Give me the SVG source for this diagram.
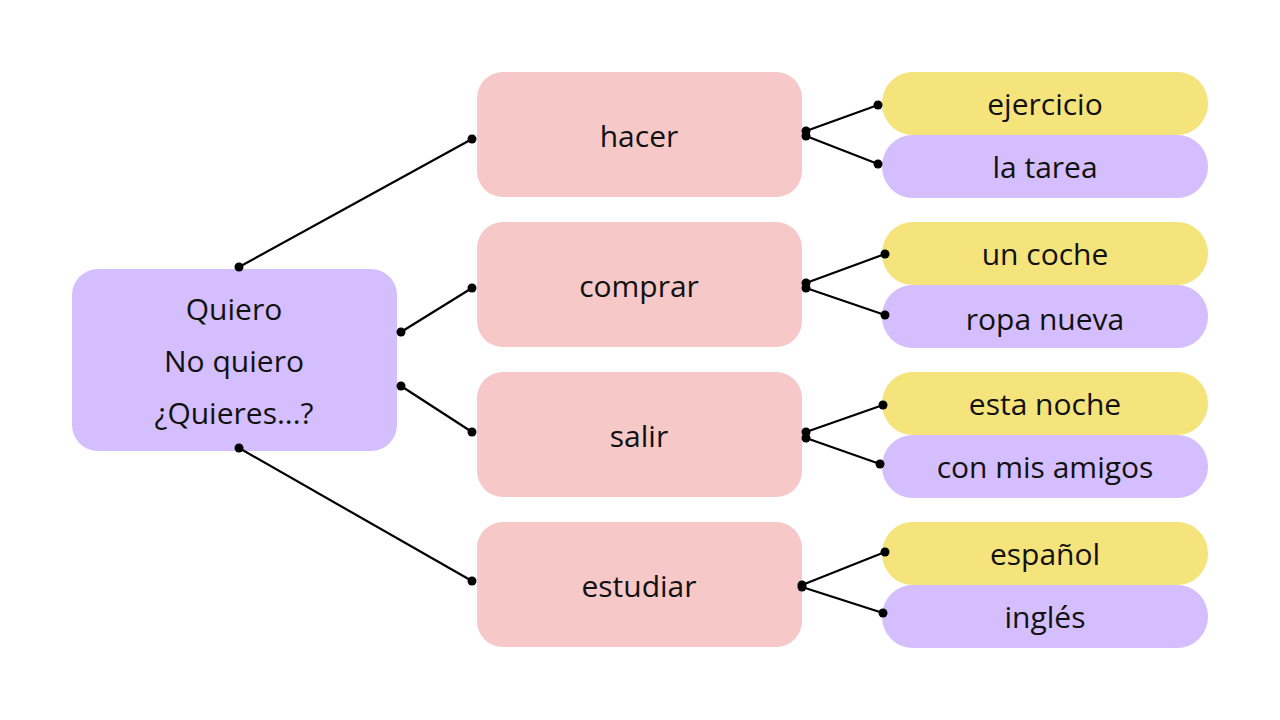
<svg xmlns="http://www.w3.org/2000/svg" width="1280" height="720" viewBox="0 0 1280 720">
<style>
.p{fill:#d4befd}.r{fill:#f6c8c8}.y{fill:#f5e37c}
text{font-family:"Open Sans","Noto Sans",sans-serif;font-size:30px;fill:#111;text-anchor:middle;dominant-baseline:central}
.c line{stroke:#000;stroke-width:2.2}
.c circle{fill:#000}
</style>
<rect width="1280" height="720" fill="#fff"/>
<g id="root"><rect class="p" x="72" y="269" width="325" height="182" rx="26"/>
<text x="234" y="308">Quiero</text><text x="234" y="360">No quiero</text><text x="234" y="412">¿Quieres...?</text></g>
<g id="hacer"><rect class="r" x="477" y="72" width="325" height="125" rx="26"/><text x="639" y="135">hacer</text></g>
<g id="comprar"><rect class="r" x="477" y="222" width="325" height="125" rx="26"/><text x="639" y="285">comprar</text></g>
<g id="salir"><rect class="r" x="477" y="372" width="325" height="125" rx="26"/><text x="639" y="435">salir</text></g>
<g id="estudiar"><rect class="r" x="477" y="522" width="325" height="125" rx="26"/><text x="639" y="585">estudiar</text></g>
<g id="ejercicio"><rect class="y" x="882" y="72" width="326" height="63" rx="31"/><text x="1045" y="103">ejercicio</text></g>
<g id="latarea"><rect class="p" x="882" y="135" width="326" height="63" rx="31"/><text x="1045" y="166">la tarea</text></g>
<g id="uncoche"><rect class="y" x="882" y="222" width="326" height="63" rx="31"/><text x="1045" y="253">un coche</text></g>
<g id="ropanueva"><rect class="p" x="882" y="285" width="326" height="63" rx="31"/><text x="1045" y="318">ropa nueva</text></g>
<g id="estanoche"><rect class="y" x="882" y="372" width="326" height="63" rx="31"/><text x="1045" y="403">esta noche</text></g>
<g id="conmisamigos"><rect class="p" x="882" y="435" width="326" height="63" rx="31"/><text x="1045" y="466">con mis amigos</text></g>
<g id="espanol"><rect class="y" x="882" y="522" width="326" height="63" rx="31"/><text x="1045" y="553">español</text></g>
<g id="ingles"><rect class="p" x="882" y="585" width="326" height="63" rx="31"/><text x="1045" y="616">inglés</text></g>
<g class="c" id="connectors">
<line x1="239" y1="267" x2="472" y2="139"/><circle cx="239" cy="267" r="4.5"/><circle cx="472" cy="139" r="4.5"/>
<line x1="401" y1="332" x2="472" y2="288"/><circle cx="401" cy="332" r="4.5"/><circle cx="472" cy="288" r="4.5"/>
<line x1="401" y1="386" x2="472" y2="432"/><circle cx="401" cy="386" r="4.5"/><circle cx="472" cy="432" r="4.5"/>
<line x1="239" y1="448" x2="472" y2="581"/><circle cx="239" cy="448" r="4.5"/><circle cx="472" cy="581" r="4.5"/>
<line x1="806" y1="131" x2="878" y2="105"/><circle cx="806" cy="131" r="4.5"/><circle cx="878" cy="105" r="4.5"/>
<line x1="806" y1="136" x2="878" y2="164"/><circle cx="806" cy="136" r="4.5"/><circle cx="878" cy="164" r="4.5"/>
<line x1="806" y1="283" x2="885" y2="254"/><circle cx="806" cy="283" r="4.5"/><circle cx="885" cy="254" r="4.5"/>
<line x1="806" y1="288" x2="885" y2="315"/><circle cx="806" cy="288" r="4.5"/><circle cx="885" cy="315" r="4.5"/>
<line x1="806" y1="432" x2="883" y2="405"/><circle cx="806" cy="432" r="4.5"/><circle cx="883" cy="405" r="4.5"/>
<line x1="806" y1="438" x2="880" y2="464"/><circle cx="806" cy="438" r="4.5"/><circle cx="880" cy="464" r="4.5"/>
<line x1="802" y1="585" x2="885" y2="552"/><circle cx="802" cy="585" r="4.5"/><circle cx="885" cy="552" r="4.5"/>
<line x1="802" y1="587" x2="883" y2="613"/><circle cx="802" cy="587" r="4.5"/><circle cx="883" cy="613" r="4.5"/>
</g>
</svg>
